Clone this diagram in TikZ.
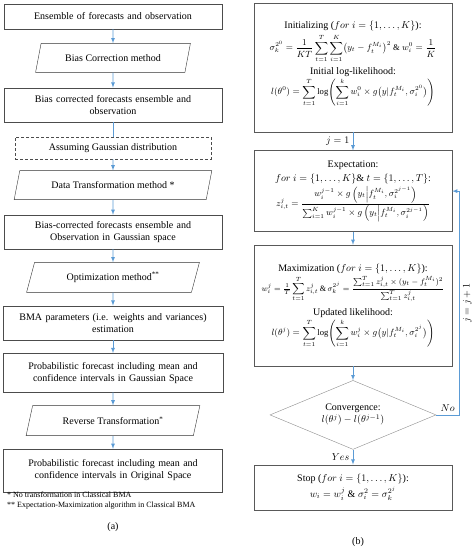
\documentclass[tikz,border=0pt]{standalone}
\usepackage{amsmath}
\usepackage{fontspec}
\setmainfont{Liberation Serif}
\usetikzlibrary{positioning, shapes.geometric}
\definecolor{flowblue}{HTML}{5B9BD5}
\newcommand{\fm}[2][8.6]{{\fontsize{#1}{10}\selectfont$\displaystyle #2$}}
\begin{document}
\begin{tikzpicture}[x=1pt, y=1pt, node distance=14pt, font=\fontsize{10}{12}\selectfont]
\tikzstyle{box}=[rectangle, draw=black!70, minimum width=218pt, text width=212pt, align=center, inner sep=2pt]
\tikzstyle{para}=[trapezium, trapezium left angle=71, trapezium right angle=109, trapezium stretches=true, draw=black!80, minimum height=29pt, align=center, inner sep=2pt]
\tikzstyle{dbox}=[rectangle, draw=black!70, densely dashed, minimum width=196pt, minimum height=22pt]
\tikzstyle{mbox}=[rectangle, draw=black!65, minimum width=198pt, align=center, inner sep=2pt]
\tikzstyle{test}=[diamond, draw=black!45, aspect=2.4, minimum width=166pt, minimum height=69pt, inner sep=0pt, align=center]
\tikzstyle{connect}=[-latex, draw=flowblue, line width=0.8pt]
\tikzstyle{link}=[draw=flowblue, line width=0.8pt]
\useasboundingbox (0,0) rectangle (475,-550);
    % (a)
    \node[box, minimum height=25pt] (ens) at (113,-16.5) {Ensemble of forecasts and observation};
    \node[para, minimum width=155pt] (bias) [below=of ens] {Bias Correction method};
    \node[box, minimum height=34pt] (corr) [below=15pt of bias] {Bias corrected forecasts ensemble and\\ observation};
    \node[dbox] (gauss) [below=15pt of corr] {Assuming Gaussian distribution};
    \node[para, minimum width=198pt] (trans) [below=11pt of gauss] {Data Transformation method *};
    \node[box, minimum height=34pt] (gspace) [below=15pt of trans] {Bias-corrected forecasts ensemble and\\ Observation in Gaussian space};
    \node[para, minimum width=173pt, minimum height=30pt] (opt) [below=13pt of gspace] {Optimization method\textsuperscript{**}};
    \node[box, minimum width=220pt, minimum height=34pt] (bma) [below=13pt of opt] {BMA parameters (i.e. weights and variances)\\ estimation};
    \node[box, minimum width=220pt, minimum height=39pt] (probg) [below=13pt of bma] {Probabilistic forecast including mean and\\ confidence intervals in Gaussian Space};
    \node[para, minimum width=174pt, minimum height=30pt] (rev) [below=13pt of probg] {Reverse Transformation\textsuperscript{*}};
    \node[box, minimum width=219pt, minimum height=43pt] (probo) [below=13pt of rev] {Probabilistic forecast including mean and\\ confidence intervals in Original Space};
    \node[anchor=north west, align=left, inner sep=0pt, font=\fontsize{8}{10}\selectfont] (notes) at (7,-492) {* No transformation in Classical BMA\\ ** Expectation-Maximization algorithm in Classical BMA};
    \node (capa) at (113,-527) {(a)};
    \path (ens) edge [connect] (bias)
          (bias) edge [connect] (corr)
          (corr) edge [link] (gauss)
          (gauss) edge [connect] (trans)
          (trans) edge [connect] (gspace)
          (gspace) edge [connect] (opt)
          (opt) edge [connect] (bma)
          (bma) edge [connect] (probg)
          (probg) edge [connect] (rev)
          (rev) edge [connect] (probo);
    % (b)
    \node[mbox, anchor=north, minimum height=129pt] (init) at (353,-3) {Initializing ($for\ i=\{1,\ldots,K\}$):\\[3pt]
      \fm{\sigma_k^{2^0}=\frac{1}{KT}\sum_{t=1}^{T}\sum_{i=1}^{K}\bigl(y_t-f_t^{M_i}\bigr)^2\ \text{\&}\ w_i^0=\frac{1}{K}}\\[4pt]
      Initial log-likelihood:\\[1pt]
      \fm{l(\theta^0)=\sum_{t=1}^{T}\log\Biggl(\sum_{i=1}^{k}w_i^0\times g\bigl(y|f_t^{M_i},\sigma_i^{2^0}\bigr)\Biggr)}\rule[-20pt]{0pt}{20pt}};
    \node[mbox, minimum height=81pt] (exp) [below=18pt of init] {Expectation:\\[2pt]
      $for\ i=\{1,\ldots,K\}\text{\&}\ t=\{1,\ldots,T\}$:\\[2pt]
      \fm{z_{i,t}^{j}=\frac{w_i^{j-1}\times g\left(y_t\middle|f_t^{M_i},\sigma_i^{2^{j-1}}\right)}{\sum_{i=1}^{K}w_i^{j-1}\times g\left(y_t\middle|f_t^{M_i},\sigma_i^{2^{j-1}}\right)}}};
    \node[mbox, minimum height=121pt] (max) [below=13pt of exp] {Maximization ($for\ i=\{1,\ldots,K\}$):\\[1pt]
      \fm[8.2]{w_i^j=\tfrac{1}{T}\sum_{t=1}^{T}z_{i,t}^j\,\text{\&}\,\sigma_k^{2^j}=\frac{\sum_{t=1}^{T}z_{i,t}^j\times(y_t-f_t^{M_i})^2}{\sum_{t=1}^{T}z_{i,t}^j}}\\[5pt]
      Updated likelihood:\\[1pt]
      \fm{l(\theta^j)=\sum_{t=1}^{T}\log\Biggl(\sum_{i=1}^{k}w_i^j\times g\bigl(y|f_t^{M_i},\sigma_i^{2^j}\bigr)\Biggr)}\rule[-8pt]{0pt}{8pt}};
    \node[test] (conv) [below=14pt of max] {Convergence:\\ $l(\theta^j)-l(\theta^{j-1})$};
    \node[mbox, minimum height=45pt] (stop) [below=15pt of conv] {Stop ($for\ i=\{1,\ldots,K\}$):\\[2pt]
      $w_i=w_i^j\ \text{\&}\ \sigma_i^2=\sigma_k^{2^j}$};
    \node (capb) at (358,-542) {(b)};
    \coordinate (back) at ([xshift=23pt]conv.east);
    \path (init) edge [connect] node [left] {$j=1$} (exp)
          (exp) edge [connect] (max)
          (max) edge [connect] (conv)
          (conv) edge [connect] node [left] {$Yes$} (stop);
    \draw[connect] (conv.east) -- node [above] {$No$} (back) |- node [pos=0.25, anchor=north, rotate=90] {$j=j+1$} (exp.east);
\end{tikzpicture}
\end{document}
